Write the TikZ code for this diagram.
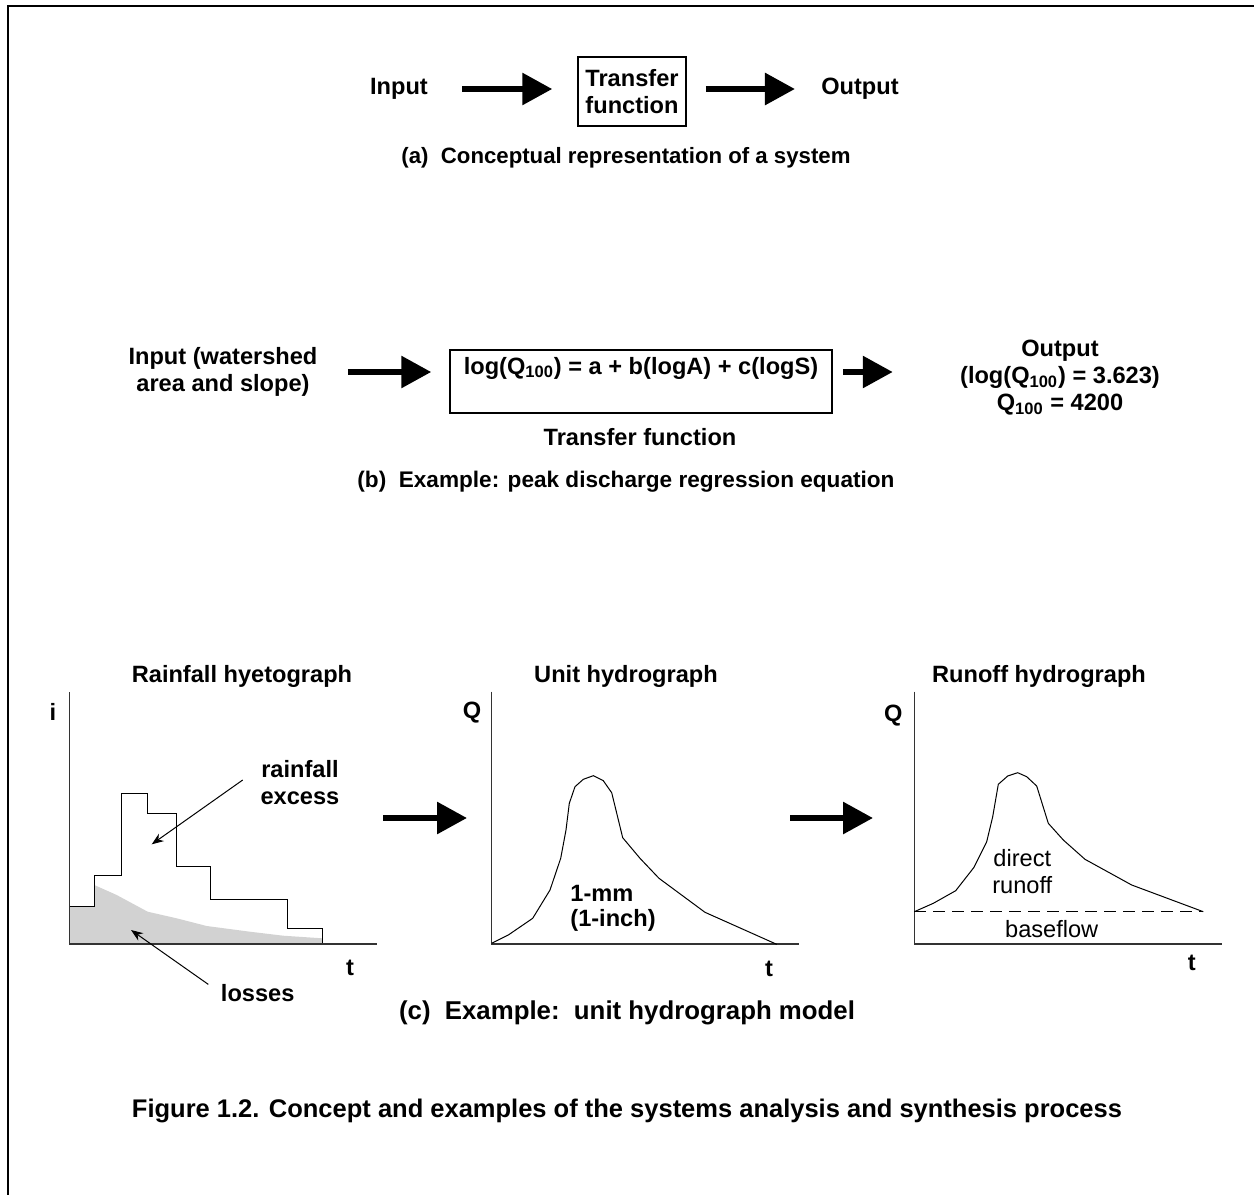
\documentclass[tikz,border=0pt]{standalone}
\usepackage{fontspec}
\setmainfont{Liberation Sans}
\usetikzlibrary{arrows.meta}
\tikzset{
    lbl/.style={font=\fontsize{11.8}{13.5}\selectfont\bfseries, align=center, inner sep=0pt},
    plainlbl/.style={font=\fontsize{11.8}{13.5}\selectfont, align=center, inner sep=0pt},
    caplbl/.style={font=\fontsize{#1}{14}\selectfont\bfseries, align=center, inner sep=0pt},
    fatarrow/.style={line width=3pt, -{Triangle[length=15pt,width=15.5pt]}},
    thinarrow/.style={line width=0.5pt, -{Stealth[length=6pt,width=4.5pt]}},
    axisline/.style={line width=0.6pt, draw=black!80},
    curve/.style={line width=0.5pt},
}

\begin{document}
\begin{tikzpicture}[x=0.5pt, y=-0.5pt]
\useasboundingbox (0,0) rectangle (1254,1195);
\draw[line width=1pt] (8,1195) -- (8,6) -- (1254,6);

% (a) concept
\node[lbl] (ina) at (399,89) {Input};
\node[lbl, draw, line width=0.75pt, minimum width=54pt, minimum height=34.5pt] (tfa) at (632,91.5) {Transfer\\function};
\node[lbl] (outa) at (860,89) {Output};
\draw[fatarrow, shorten <=17pt, shorten >=12.5pt] (ina.east) -- (ina.east -| tfa.west);
\draw[fatarrow, shorten <=9.5pt, shorten >=13pt] (outa.west -| tfa.east) -- (outa.west);
\node[caplbl=11.1] (capa) at (626,158) {(a)~~Conceptual representation of a system};

% (b) regression equation
\node[lbl] (inb) at (223,372) {Input (watershed\\area and slope)};
\node[draw, line width=0.75pt, minimum width=191pt, minimum height=31.5pt, inner sep=0pt] (eqbox) at (641,381.5) {};
\node[lbl] (eq) at (641,368) {log(Q\textsubscript{100}) = a + b(logA) + c(logS)};
\node[lbl] (tfb) at (640,437) {Transfer function};
\node[lbl] (outb) at (1060,378) {Output\\(log(Q\textsubscript{100}) = 3.623)\\Q\textsubscript{100} = 4200};
\draw[fatarrow, shorten <=15pt, shorten >=9pt] (inb.east) -- (inb.east -| eqbox.west);
\draw[fatarrow, shorten <=5pt, shorten >=33.5pt] (inb.east -| eqbox.east) -- (inb.east -| outb.west);
\node[caplbl=11.3] (capb) at (626,482) {(b)~~Example: peak discharge regression equation};

% (c) unit hydrograph model
\node[lbl] (hyet) at (242,676) {Rainfall hyetograph};
\node[lbl] (unit) at (626,676) {Unit hydrograph};
\node[lbl] (runo) at (1039,676) {Runoff hydrograph};

% hyetograph
\fill[gray!35] (69,944) -- (69,906) -- (94.3,906) -- (94.3,885) -- (116.7,895) -- (147.7,911.7)
    -- (176.7,918.3) -- (206.7,926) -- (250,931.7) -- (283.3,935.7) -- (322.3,938.3) -- (322.3,944) -- cycle;
\draw[curve] (69,906) -- (94.3,906) -- (94.3,875.7) -- (121,875.7) -- (121,793) -- (147.7,793)
    -- (147.7,813) -- (176.7,813) -- (176.7,866.7) -- (210,866.7) -- (210,899) -- (287.7,899)
    -- (287.7,928) -- (322.3,928) -- (322.3,944);
\draw[axisline] (69.3,692) -- (69.3,944) -- (377,944);
\node[lbl] (hi) at (53,712) {i};
\node[lbl] (ht) at (350,968) {t};
\node[lbl] (excess) at (300,783) {rainfall\\excess};
\node[lbl] (losses) at (257.7,993) {losses};
\coordinate (excstart) at (242.7,780);
\coordinate (exctip) at (151.7,844.3);
\coordinate (losstip) at (131,930);
\draw[thinarrow] (excstart) -- (exctip);
\draw[thinarrow, shorten <=7.5pt] (losses.west) -- (losstip);

% unit hydrograph
\coordinate (c1s) at (383,818);
\coordinate (c1e) at (467,818);
\draw[fatarrow] (c1s) -- (c1e);
\draw[axisline] (491.7,691.7) -- (491.7,944) -- (799.3,944);
\draw[curve] plot coordinates {(491.7,943.3) (508.3,935) (532.7,918.3) (550,890) (560.7,858.3)
    (566,830) (569.3,803.3) (575,786.7) (583.3,779.3) (593.3,775.7) (603.3,780.7) (611.7,792.7)
    (622.7,837.7) (640,858.3) (659,878.3) (705,912.3) (776.7,944.3)};
\node[lbl] (uq) at (472,713) {Q};
\node[lbl] (ut) at (769,969) {t};
\node[lbl, anchor=west] (mm) at (570,893) {1-mm};
\node[lbl, anchor=west] (inch) at (570,920) {(1-inch)};

% runoff hydrograph
\coordinate (c2s) at (790,818);
\coordinate (c2e) at (873,818);
\draw[fatarrow] (c2s) -- (c2e);
\draw[axisline] (914.3,691.7) -- (914.3,944) -- (1221.7,944);
\draw[curve, dashed, dash pattern=on 6pt off 3.5pt] (914.3,911.7) -- (1203.3,911.7);
\draw[curve] plot coordinates {(914.3,911.7) (933.3,903.3) (955.7,890.7) (974,867.3) (986.7,841.7)
    (992.7,816.7) (998.3,784.3) (1007.7,776) (1017.7,772.7) (1026.7,776.7) (1036.7,786)
    (1048.3,823.3) (1063.3,840) (1085,859.3) (1131.7,885) (1203.3,911.7)};
\node[lbl] (rq) at (893.3,715.7) {Q};
\node[lbl] (rt) at (1191.7,963.3) {t};
\node[plainlbl] (direct) at (1022.3,872) {direct\\runoff};
\node[plainlbl] (base) at (1051.7,929.3) {baseflow};

\node[caplbl=12.9] (capc) at (627,1013) {(c)~~Example:~~unit hydrograph model};
\node[caplbl=12.75] (fig) at (627,1111) {Figure 1.2. Concept and examples of the systems analysis and synthesis process};
\end{tikzpicture}
\end{document}
